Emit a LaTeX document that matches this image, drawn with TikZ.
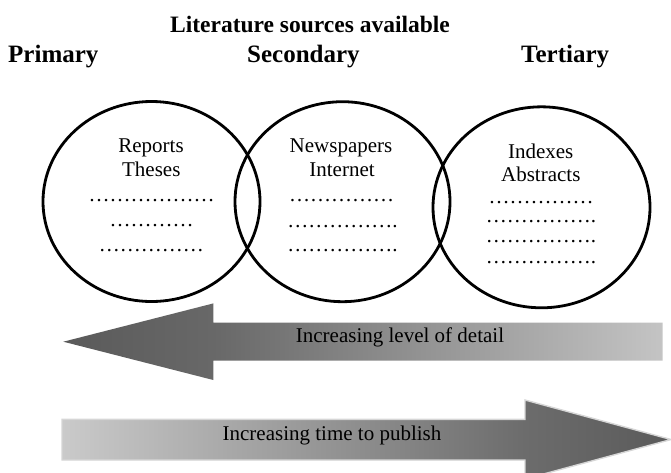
\documentclass[tikz,border=0pt]{standalone}
\usepackage{fontspec}
\setmainfont{Liberation Serif}
\definecolor{adark}{HTML}{5A5A5A}
\definecolor{amid}{HTML}{686868}
\definecolor{alight}{HTML}{C4C4C4}
\definecolor{blight}{HTML}{CACACA}
\definecolor{bmid}{HTML}{6C6C6C}
\definecolor{bedge}{HTML}{D6D6D6}
\pgfdeclarehorizontalshading{leftarrowshade}{100bp}{color(0bp)=(adark); color(25bp)=(adark); color(37.5bp)=(amid); color(75bp)=(alight); color(100bp)=(alight)}
\pgfdeclarehorizontalshading{rightarrowshade}{100bp}{color(0bp)=(blight); color(25bp)=(blight); color(63bp)=(bmid); color(75bp)=(adark); color(100bp)=(adark)}
\tikzset{
  headtext/.style={font=\fontsize{25}{30}\selectfont\bfseries, anchor=base west, inner sep=0pt},
  titletext/.style={font=\fontsize{23.5}{28}\selectfont\bfseries, anchor=base, inner sep=0pt},
  bodytext/.style={font=\fontsize{21}{25}\selectfont, anchor=base, inner sep=0pt},
  ring/.style={draw=black, line width=2.8pt},
}
\newcommand{\dotrow}[1]{\foreach \k in {1,...,#1}{…}}
\begin{document}
\begin{tikzpicture}[x=1pt,y=-1pt]
\useasboundingbox (0,0) rectangle (671,472);
% titles
\node[titletext] (title) at (310,32) {Literature sources available};
\node[headtext] (primary) at (8,62) {Primary};
\node[headtext] (secondary) at (247,62) {Secondary};
\node[headtext] (tertiary) at (521,62) {Tertiary};
% circles
\draw[ring] (151.5,201.5) ellipse [x radius=108.5pt, y radius=100pt];
\draw[ring] (342.5,201.7) ellipse [x radius=107.5pt, y radius=100pt];
\draw[ring] (541.5,207.3) ellipse [x radius=108.5pt, y radius=100.5pt];
% circle 1 text
\node[bodytext] (rep) at (151,152.7) {Reports};
\node[bodytext] (the) at (151.3,176) {Theses};
\node[bodytext] (d11) at (151.5,201) {\dotrow{6}};
\node[bodytext] (d12) at (151.7,226.5) {\dotrow{4}};
\node[bodytext] (d13) at (151.3,251) {\dotrow{5}};
% circle 2 text
\node[bodytext] (news) at (341,152.7) {Newspapers};
\node[bodytext] (inet) at (342,176) {Internet};
\node[bodytext] (d21) at (341.5,201) {\dotrow{5}};
\node[bodytext] (d22) at (342.5,227) {\dotrow{5}.};
\node[bodytext] (d23) at (342.5,251.5) {\dotrow{5}.};
% circle 3 text
\node[bodytext] (idx) at (540.7,158.3) {Indexes};
\node[bodytext] (abs) at (540.8,181.7) {Abstracts};
\node[bodytext] (d31) at (541,203) {\dotrow{5}};
\node[bodytext] (d32) at (541,222) {\dotrow{5}.};
\node[bodytext] (d33) at (541,242.5) {\dotrow{5}.};
\node[bodytext] (d34) at (541,263) {\dotrow{5}.};
% arrows
\path[shading=leftarrowshade] (63.3,341.7) -- (213.3,303.4) -- (213.3,322.7) -- (662.7,322.7) -- (662.7,360.7) -- (213.3,360.7) -- (213.3,380) -- cycle;
\path[shading=rightarrowshade, draw=bedge, line width=1.4pt] (62,419.3) -- (525,419.3) -- (525,400) -- (671,439.5) -- (525,479) -- (525,460) -- (62,460) -- cycle;
\node[bodytext] (detail) at (400,342.7) {Increasing level of detail};
\node[bodytext] (publish) at (332,440) {Increasing time to publish};
\end{tikzpicture}
\end{document}
